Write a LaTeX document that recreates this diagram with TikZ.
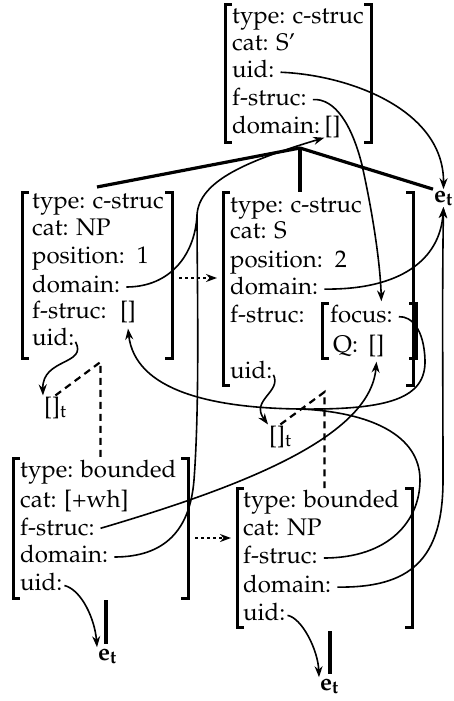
\documentclass[tikz,border=0pt]{standalone}
\usepackage[T1]{fontenc}
\usepackage{mathpazo}
\usepackage{tikz}
\usetikzlibrary{arrows.meta,positioning,calc}

\begin{document}
\begin{tikzpicture}[x=1pt, y=-1pt, >={Stealth[length=11pt,width=8pt]},
        row/.style={anchor=west, inner sep=0pt, text height=11pt, text depth=0pt, font=\fontsize{24}{28}\selectfont},
        leaf/.style={anchor=base west, inner sep=1pt, font=\fontsize{24}{28}\selectfont},
        box/.style={rectangle, inner sep=0pt, outer sep=0pt},
        brk/.style={line width=3pt},
        tree/.style={line width=3.2pt},
        link/.style={line width=1.6pt, shorten <=6pt},
        trace/.style={line width=2.2pt, dash pattern=on 7pt off 5pt},
        prec/.style={->, line width=1.8pt, dash pattern=on 3pt off 3pt, shorten <=7pt, shorten >=6pt}]
    \useasboundingbox (0,0) rectangle (454,701);

    % S'
    \node[box, minimum width=146pt, minimum height=137pt] (sp) at (298,73.5) {};
    \node[row] (sp-type) at (232,18) {type: c-struc};
    \node[row] (sp-cat) at (232,45) {cat: S'};
    \node[row] (sp-uid) at (232,72) {uid:};
    \node[row] (sp-fs) at (232,100) {f-struc:};
    \node[row] (sp-dom) at (232,128) {domain:};
    \node[row, right=4pt of sp-dom] (sp-domv) {[]};

    % NP
    \node[box, minimum width=150pt, minimum height=166pt] (np) at (97,275) {};
    \node[row] (np-type) at (32,203) {type: c-struc};
    \node[row] (np-cat) at (32,230) {cat: NP};
    \node[row] (np-pos) at (32,258) {position:\enspace 1};
    \node[row] (np-dom) at (32,287) {domain:};
    \node[row] (np-fs) at (32,313) {f-struc:};
    \node[row, right=13pt of np-fs] (np-fsv) {[]};
    \node[row] (np-uid) at (32,340) {uid:};

    % S
    \node[box, minimum width=190pt, minimum height=193pt] (s) at (318,288.5) {};
    \node[row] (s-type) at (230,207) {type: c-struc};
    \node[row] (s-cat) at (230,233) {cat: S};
    \node[row] (s-pos) at (230,262) {position:\enspace 2};
    \node[row] (s-dom) at (230,289) {domain:};
    \node[row] (s-fs) at (230,317) {f-struc:};
    \node[row] (s-uid) at (230,373) {uid:};
    \node[box, minimum width=94pt, minimum height=55pt] (sq) at (369,330.5) {};
    \node[row] (s-focus) at (330,317) {focus:};
    \node[row] (s-q) at (333,347) {Q:};
    \node[row, right=10pt of s-q] (s-qv) {[]};

    % bounded [+wh]
    \node[box, minimum width=175pt, minimum height=140pt] (wh) at (100.5,528) {};
    \node[row] (wh-type) at (20,472) {type: bounded};
    \node[row] (wh-cat) at (20,502) {cat: [+wh]};
    \node[row] (wh-fs) at (20,530) {f-struc:};
    \node[row] (wh-dom) at (20,557) {domain:};
    \node[row] (wh-uid) at (20,585) {uid:};

    % bounded NP
    \node[box, minimum width=175pt, minimum height=139pt] (b) at (324.5,557.5) {};
    \node[row] (b-type) at (243,502) {type: bounded};
    \node[row] (b-cat) at (243,530) {cat: NP};
    \node[row] (b-fs) at (243,558) {f-struc:};
    \node[row] (b-dom) at (243,587) {domain:};
    \node[row] (b-uid) at (243,615) {uid:};

    % leaves
    \node[leaf] (et1) at (433,202) {\textbf{e\textsubscript{t}}};
    \node[leaf] (wh-et) at (97,660) {\textbf{e\textsubscript{t}}};
    \node[leaf] (b-et) at (319,690) {\textbf{e\textsubscript{t}}};
    \node[leaf] (np-tr) at (43,414) {[]\textsubscript{t}};
    \node[leaf] (s-tr) at (268,443) {[]\textsubscript{t}};

    \foreach \bx in {sp,np,s,sq,wh,b} {
        \draw[brk] ([xshift=7pt]\bx.north west) -- (\bx.north west) -- (\bx.south west) -- ([xshift=7pt]\bx.south west);
        \draw[brk] ([xshift=-7pt]\bx.north east) -- (\bx.north east) -- (\bx.south east) -- ([xshift=-7pt]\bx.south east);
    }

    % tree
    \coordinate (sp-root) at (300,148);
    \draw[tree] (sp-root) -- ([yshift=5pt]np.north);
    \draw[tree] (sp-root) -- (et1.north west);
    \draw[tree] (sp-root) -- (sp-root |- s.north);
    \draw[tree, shorten <=2pt, shorten >=3pt] ([xshift=5.5pt]wh.south) -- ([xshift=5.5pt]wh.south |- wh-et.north);
    \draw[tree, shorten <=4pt, shorten >=3pt] ([xshift=5.5pt]b.south) -- ([xshift=5.5pt]b.south |- b-et.north);
    \draw[trace] (np-tr.north) -- (100.5,362) -- (wh.north);
    \draw[trace] (s-tr.north) -- (324.5,392) -- (b.north);

    % order
    \path ([yshift=-3pt]np.east) coordinate (np-pr);
    \path ([yshift=-10pt]wh.east) coordinate (wh-pr);
    \draw[prec] (np-pr) -- (np-pr -| s.west);
    \draw[prec] (wh-pr) -- (wh-pr -| b.west);

    % values
    \coordinate (dom-join) at (197,215);
    \coordinate (fs-join) at (300,409);
    \draw[link,->] (sp-uid.east) .. controls (350,75) and (444,110) .. (et1.north);
    \draw[link,->] (sp-fs.east) .. controls (335,98) and (352,125) .. (362,165) .. controls (372,210) and (380,260) .. ([xshift=20pt,yshift=10pt]s-focus.north);
    \draw[link,->] (np-dom.east) .. controls (170,287) and (195,255) .. (dom-join) .. controls (199,180) and (250,160) .. ([yshift=-4pt]sp-domv.south west);
    \draw[link] (wh-dom.east) .. controls (165,557) and (190,530) .. (194,480) .. controls (200,400) and (197,280) .. (dom-join);
    \draw[link,->] (s-dom.east) .. controls (400,290) and (440,260) .. (et1.south);
    \draw[link,->] (b-dom.east) .. controls (410,588) and (443,560) .. (443,480) .. controls (443,380) and (442,300) .. (et1.south);
    \draw[link,->] (s-focus.east) .. controls (412,316) and (424,330) .. (425,360) .. controls (426,398) and (390,410) .. (fs-join) .. controls (210,408) and (135,390) .. ([yshift=-10pt]np-fsv.south);
    \draw[link] (b-fs.east) .. controls (390,558) and (420,520) .. (420,480) .. controls (420,435) and (370,412) .. (fs-join);
    \draw[link,->] (wh-fs.east) .. controls (230,490) and (370,440) .. ([yshift=-9pt]s-qv.south);
    \draw[link,->,shorten <=2pt] (np-uid.east) .. controls (88,365) and (42,358) .. (np-tr.north west);
    \draw[link,->,shorten <=2pt] (s-uid.east) .. controls (282,392) and (250,400) .. (s-tr.north west);
    \draw[link,->,shorten <=2pt] (wh-uid.east) .. controls (82,590) and (95,620) .. (wh-et.north west);
    \draw[link,->,shorten <=2pt] (b-uid.east) .. controls (302,618) and (318,650) .. (b-et.north west);
\end{tikzpicture}
\end{document}
